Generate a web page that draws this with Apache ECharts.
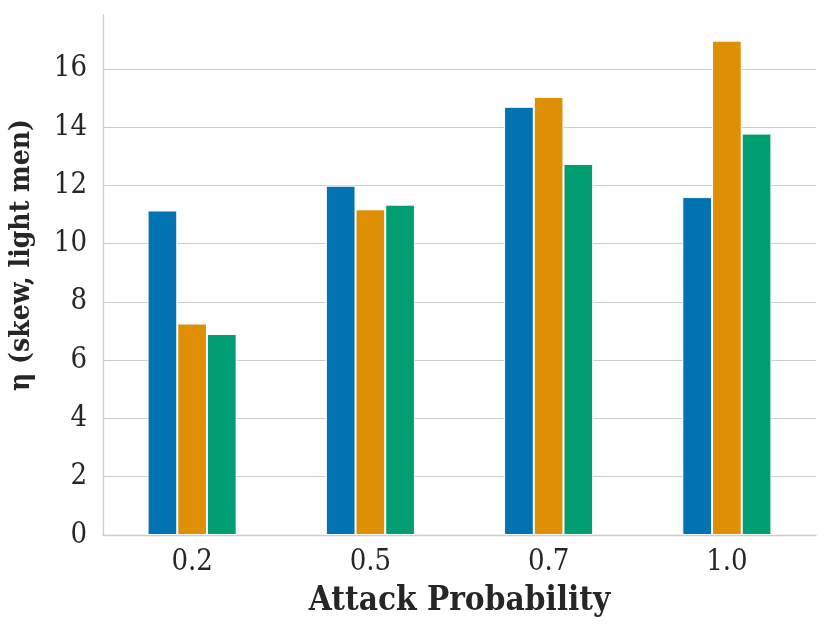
<!DOCTYPE html>
<html>
<head>
<meta charset="utf-8">
<script src="https://cdn.jsdelivr.net/npm/echarts@6/dist/echarts.min.js"></script>
<style>html,body{margin:0;padding:0;background:#fff;}#c{width:831px;height:631px;}</style>
</head>
<body>
<div id="c"></div>
<script>
const categories = ['0.2', '0.5', '0.7', '1.0'];
const seriesA = [11.14, 11.99, 14.70, 11.60];
const seriesB = [7.26, 11.18, 15.04, 16.97];
const seriesC = [6.90, 11.34, 12.74, 13.78];
const colors = ['#0173B2', '#DE8F05', '#029E73'];
const font = '"DejaVu Serif Condensed", "DejaVu Serif", serif';

const chart = echarts.init(document.getElementById('c'));
const mk = (name, data, color) => ({
  name, type: 'bar', data, barWidth: 29.7, barGap: '0%',
  itemStyle: { color, borderColor: '#ffffff', borderWidth: 1 }
});
chart.setOption({
  animation: false,
  backgroundColor: '#ffffff',
  grid: { left: 103, right: 15, top: 15, bottom: 96, containLabel: false, outerBoundsMode: 'none' },
  xAxis: {
    type: 'category', data: categories,
    name: 'Attack Probability', nameLocation: 'middle', nameGap: 50,
    nameTextStyle: { fontFamily: font, fontWeight: 'bold', fontSize: 33, color: '#262626' },
    axisLine: { show: true, lineStyle: { color: '#cccccc', width: 1.3 } },
    axisTick: { show: false },
    axisLabel: { fontFamily: font, fontSize: 29, color: '#262626', margin: 13 },
    splitLine: { show: false }
  },
  yAxis: {
    type: 'value', min: 0, max: 17.85, interval: 2,
    name: 'η (skew, light men)', nameLocation: 'middle', nameGap: 67,
    nameTextStyle: { fontFamily: font, fontWeight: 'bold', fontSize: 28, color: '#262626', padding: [0, 0, 0, 40] },
    axisLine: { show: true, lineStyle: { color: '#cccccc', width: 1.3 } },
    axisTick: { show: false },
    axisLabel: { fontFamily: font, fontSize: 29, color: '#262626', margin: 16, showMaxLabel: false },
    splitLine: { show: true, showMaxLine: false, lineStyle: { color: '#cccccc', width: 1.2 } }
  },
  series: [
    mk('a', seriesA, colors[0]),
    mk('b', seriesB, colors[1]),
    mk('c', seriesC, colors[2])
  ]
});
</script>
</body>
</html>
